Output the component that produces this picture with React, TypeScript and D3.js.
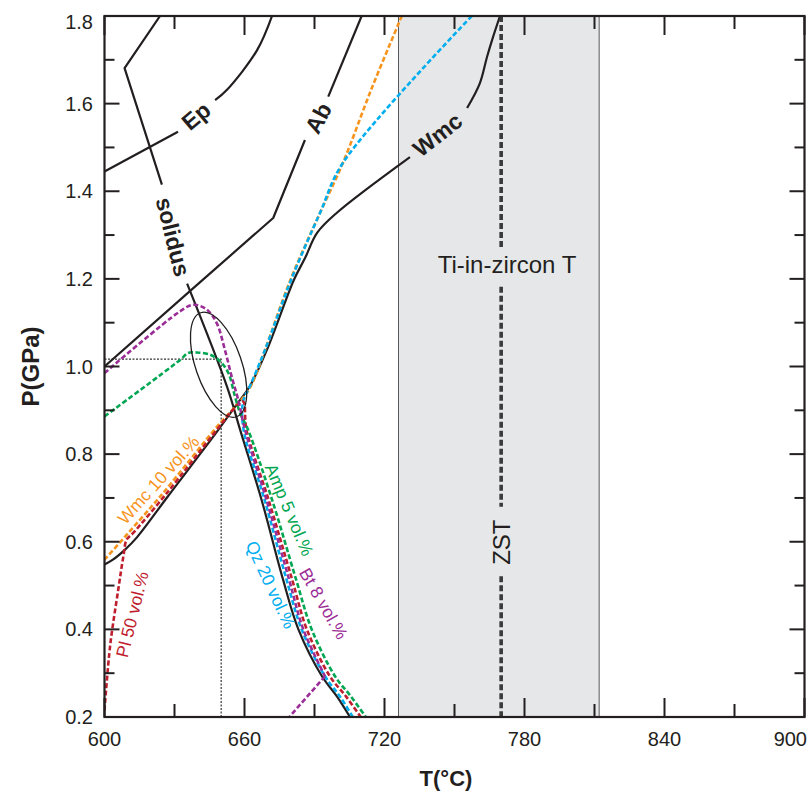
import React from "react";
import * as d3 from "d3";

// ---------- data (T in °C, P in GPa) ----------
const xMajorTicks = [600, 660, 720, 780, 840, 900];
const xMinorTicks = [630, 690, 750, 810, 870];
const yMajorTicks = [0.2, 0.4, 0.6, 0.8, 1.0, 1.2, 1.4, 1.6, 1.8];
const yMinorTicks = [0.3, 0.5, 0.7, 0.9, 1.1, 1.3, 1.5, 1.7];

const epLow = [[600, 1.445], [631.5, 1.536]];
const epHigh = [[647.4, 1.608], [652.4, 1.631], [665.4, 1.722], [671.8, 1.8]];
const abLow = [[600, 1.0], [636.6, 1.172], [672.3, 1.339], [685.9, 1.517]];
const abHigh = [[695.9, 1.616], [710.2, 1.8]];
const solidusHigh = [[623.8, 1.8], [608.6, 1.681], [624.6, 1.415]];
const solidusLow = [[635.4, 1.189], [652.5, 0.954], [658.1, 0.856], [667.3, 0.696], [676.5, 0.514], [683.1, 0.4], [693.2, 0.293], [699.6, 0.247], [705.2, 0.2]];
const wmcLow = [[600, 0.548], [603.6, 0.559], [608.8, 0.582], [613.9, 0.61], [626.8, 0.701], [648.6, 0.854], [655.9, 0.908], [662.4, 0.956], [669.6, 1.038], [681.2, 1.198], [686.0, 1.248], [691.1, 1.305], [699.6, 1.351], [730.9, 1.478]];
const wmcHigh = [[755.4, 1.59], [760.9, 1.647], [763.9, 1.706], [766.1, 1.745], [769.5, 1.8]];

const wmc10 = [[600, 0.559], [623.8, 0.703], [648.6, 0.865], [656.8, 0.913], [662.4, 0.952], [668.8, 1.038], [679.7, 1.198], [692.4, 1.351], [702.2, 1.465], [714.6, 1.636], [727.4, 1.8]];
const qz20 = [[757.4, 1.8], [702.2, 1.465], [692.4, 1.351], [680.0, 1.198], [668.8, 1.038], [662.4, 0.956], [659.4, 0.92], [659.6, 0.856], [668.6, 0.696], [678.0, 0.514], [684.5, 0.4], [694.5, 0.293], [700.9, 0.247], [706.4, 0.2]];
const bt8 = [[600, 0.985], [632.4, 1.126], [638.1, 1.141], [643.8, 1.13], [648.1, 1.099], [651.6, 1.038], [654.5, 0.977], [657.3, 0.924], [660.2, 0.856], [669.4, 0.696], [679.1, 0.514], [685.2, 0.4], [694.5, 0.293]];
const bt8Branch = [[694.5, 0.293], [679.2, 0.2]];
const pl50 = [[600, 0.215], [602.4, 0.362], [605.9, 0.491], [608.1, 0.567], [609.5, 0.605], [612.3, 0.62], [626.7, 0.711], [646.6, 0.845], [655.9, 0.906], [659.4, 0.92], [660.8, 0.856], [670.3, 0.696], [680.4, 0.514], [686.7, 0.4], [696.6, 0.293], [703.5, 0.247], [709.8, 0.2]];
const amp5 = [[600, 0.886], [632.4, 1.015], [635.9, 1.031], [639.5, 1.032], [645.2, 1.027], [649.5, 1.012], [653.1, 0.985], [655.9, 0.932], [658.1, 0.894], [661.5, 0.856], [671.8, 0.696], [682.1, 0.514], [688.8, 0.4], [698.8, 0.293], [705.6, 0.247], [712.0, 0.2]];

const zirconRange = [726, 812];
const zstT = 770;
const zstSegments = [[1.8, 1.271], [1.182, 0.68], [0.521, 0.2]];
const refPoint = [650, 1.017];
const ellipseCenter = [648.9, 1.004];

const COL = {
  black: "#231f20",
  orange: "#f7941d",
  blue: "#00aeef",
  green: "#00a651",
  purple: "#9b2d97",
  red: "#be1e2d",
};

const blackLabels = [
  { text: "Ep", t: 639.2, p: 1.572, a: -40 },
  { text: "Ab", t: 691.6, p: 1.567, a: -62 },
  { text: "Wmc", t: 742.7, p: 1.529, a: -38 },
  { text: "solidus", t: 629.4, p: 1.296, a: 76 },
];
const colorLabels = [
  { text: "Wmc 10 vol.%", t: 623.1, p: 0.741, a: -48, c: COL.orange },
  { text: "Pl 50 vol.%", t: 611.9, p: 0.434, a: -76, c: COL.red },
  { text: "Amp 5 vol.%", t: 679.2, p: 0.673, a: 67, c: COL.green },
  { text: "Qz 20 vol.%", t: 671.2, p: 0.502, a: 65, c: COL.blue },
  { text: "Bt 8 vol.%", t: 693.9, p: 0.459, a: 60, c: COL.purple },
];

const FONT = "'Liberation Sans', Arial, Helvetica, sans-serif";

export default function App() {
  const x = d3.scaleLinear().domain([600, 900]).range([104.5, 804.5]);
  const y = d3.scaleLinear().domain([0.2, 1.8]).range([717, 16]);
  const [x0, x1] = x.range();
  const [y0, y1] = [y(1.8), y(0.2)];

  const smooth = d3.line().x((d: any) => x(d[0])).y((d: any) => y(d[1])).curve(d3.curveCatmullRom.alpha(0.5));
  const straight = d3.line().x((d: any) => x(d[0])).y((d: any) => y(d[1]));

  const blackPaths = [
    straight(epLow), smooth(epHigh), straight(abLow), straight(abHigh),
    straight(solidusHigh), smooth(solidusLow), smooth(wmcLow), smooth(wmcHigh),
  ];
  const colorPaths = [
    { d: smooth(wmc10), c: COL.orange },
    { d: smooth(qz20), c: COL.blue },
    { d: smooth(pl50), c: COL.red },
    { d: smooth(amp5), c: COL.green },
    { d: smooth(bt8), c: COL.purple },
    { d: straight(bt8Branch), c: COL.purple },
  ];

  return (
    <svg width={808} height={792} style={{ position: "absolute", left: 0, top: 0, background: "#fff" }} fontFamily={FONT}>
      <defs>
        <clipPath id="plot"><rect x={x0} y={y0} width={x1 - x0} height={y1 - y0} /></clipPath>
      </defs>
      {/* shaded Ti-in-zircon range */}
      <rect x={x(zirconRange[0])} y={y0} width={x(zirconRange[1]) - x(zirconRange[0])} height={y1 - y0} fill="#e6e7e8" />
      {zirconRange.map((t, i) => (
        <line key={i} x1={x(t)} x2={x(t)} y1={y0} y2={y1} stroke="#58595b" strokeWidth={1} />
      ))}
      <g clipPath="url(#plot)">
        {/* dotted reference lines */}
        <path d={`M${x(600)},${y(refPoint[1])}H${x(refPoint[0])}V${y(0.2)}`} fill="none" stroke="#333" strokeWidth={1.2} strokeDasharray="2 1.5" />
        {blackPaths.map((d, i) => (
          <path key={i} d={d as string} fill="none" stroke={COL.black} strokeWidth={2.2} strokeLinejoin="round" />
        ))}
        {colorPaths.map((p, i) => (
          <path key={i} d={p.d as string} fill="none" stroke={p.c} strokeWidth={2.6} strokeDasharray="5 2.5" />
        ))}
        <ellipse cx={0} cy={0} rx={23} ry={55} transform={`translate(${x(ellipseCenter[0])},${y(ellipseCenter[1])}) rotate(-19)`} fill="none" stroke={COL.black} strokeWidth={1.3} />
        {zstSegments.map((s, i) => (
          <line key={i} x1={x(zstT)} x2={x(zstT)} y1={y(s[0])} y2={y(s[1])} stroke="#3a3a3a" strokeWidth={3.6} strokeDasharray="6 3" />
        ))}
      </g>
      {/* annotations */}
      <text x={x(772.5)} y={y(1.232)} dy="0.35em" textAnchor="middle" fontSize={24} fill="#231f20">Ti-in-zircon T</text>
      <text transform={`translate(${x(zstT)},${y(0.599)}) rotate(-90)`} dy="0.35em" textAnchor="middle" fontSize={24} fill="#231f20">ZST</text>
      {blackLabels.map((l, i) => (
        <text key={i} transform={`translate(${x(l.t)},${y(l.p)}) rotate(${l.a})`} dy="0.35em" textAnchor="middle" fontSize={23} fontWeight="bold" fill={COL.black}>{l.text}</text>
      ))}
      {colorLabels.map((l, i) => (
        <text key={i} transform={`translate(${x(l.t)},${y(l.p)}) rotate(${l.a})`} dy="0.35em" textAnchor="middle" fontSize={17.5} fill={l.c}>{l.text}</text>
      ))}
      {/* ticks */}
      <g stroke={COL.black} strokeWidth={2}>
        {xMajorTicks.map((t) => (
          <g key={"xM" + t}>
            <line x1={x(t)} x2={x(t)} y1={y1} y2={y1 - 19} />
            <line x1={x(t)} x2={x(t)} y1={y0} y2={y0 + 19} />
          </g>
        ))}
        {xMinorTicks.map((t) => (
          <g key={"xm" + t}>
            <line x1={x(t)} x2={x(t)} y1={y1} y2={y1 - 13} />
            <line x1={x(t)} x2={x(t)} y1={y0} y2={y0 + 13} />
          </g>
        ))}
        {yMajorTicks.map((t) => (
          <g key={"yM" + t}>
            <line x1={x0} x2={x0 + 15} y1={y(t)} y2={y(t)} />
            <line x1={x1} x2={x1 - 15} y1={y(t)} y2={y(t)} />
          </g>
        ))}
        {yMinorTicks.map((t) => (
          <g key={"ym" + t}>
            <line x1={x0} x2={x0 + 10} y1={y(t)} y2={y(t)} />
            <line x1={x1} x2={x1 - 10} y1={y(t)} y2={y(t)} />
          </g>
        ))}
      </g>
      <rect x={x0} y={y0} width={x1 - x0} height={y1 - y0} fill="none" stroke={COL.black} strokeWidth={2.2} />
      {/* tick labels */}
      {xMajorTicks.map((t, i) => {
        const last = i === xMajorTicks.length - 1;
        return (
          <text key={"xl" + t} x={last ? 807 : x(t)} y={746} textAnchor={last ? "end" : "middle"} fontSize={20} fill={COL.black}>{t}</text>
        );
      })}
      {yMajorTicks.map((t, i) => (
        <text key={"yl" + t} x={93} y={y(t) + (i === yMajorTicks.length - 1 ? 6 : 0)} dy="0.35em" textAnchor="end" fontSize={20} fill={COL.black}>{t.toFixed(1)}</text>
      ))}
      <text x={446} y={786} textAnchor="middle" fontSize={22} fontWeight="bold" fill={COL.black}>T(°C)</text>
      <text transform={`translate(31,${y(1.0)}) rotate(-90)`} dy="0.35em" textAnchor="middle" fontSize={24} fontWeight="bold" fill={COL.black}>P(GPa)</text>
    </svg>
  );
}
